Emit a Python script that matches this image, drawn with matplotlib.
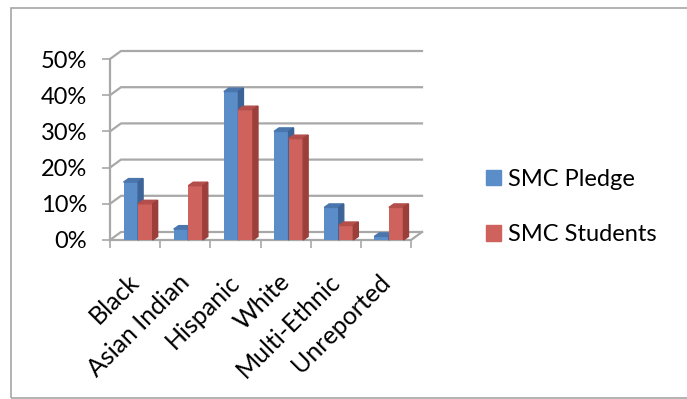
import matplotlib.pyplot as plt
from matplotlib.patches import Polygon, Rectangle, Patch

plt.rcParams['font.family'] = ['Lato', 'DejaVu Sans']

# data
categories = ['Black', 'Asian Indian', 'Hispanic', 'White', 'Multi-Ethnic', 'Unreported']
pledge = [0.16, 0.03, 0.41, 0.30, 0.09, 0.01]
students = [0.10, 0.15, 0.36, 0.28, 0.04, 0.09]
series_names = ['SMC Pledge', 'SMC Students']
yticks = [0, 0.1, 0.2, 0.3, 0.4, 0.5]
ytick_labels = ['0%', '10%', '20%', '30%', '40%', '50%']

# face colours: front, top, side
blue = ('#5b8dc9', '#4a76ad', '#3c6496')
red = ('#cf625c', '#b34e4a', '#9c3f3b')
grid_col = '#a8a8a8'

W, H = 687, 399
fig = plt.figure(figsize=(W / 100, H / 100), dpi=100)
ax = fig.add_axes([110 / W, 159 / H, 301 / W, 181 / H])
ax.set_xlim(0, len(categories))
ax.set_ylim(0, 0.5)

# pixel sizes in data units, used for the fake 3d depth
ux = len(categories) / 301
uy = 0.5 / 181
wall_dx, wall_dy = 11 * ux, 8 * uy
bar_dx, bar_dy = 5 * ux, 3.5 * uy
n = len(categories)

# back wall gridlines + left side diagonals
for t in yticks:
    ax.plot([0, wall_dx, n + wall_dx], [t, t + wall_dy, t + wall_dy],
            color=grid_col, lw=1.6, clip_on=False, zorder=1)
# floor
ax.plot([0, n, n + wall_dx], [0, 0, wall_dy], color=grid_col, lw=1.6,
        clip_on=False, zorder=1)

for s in ['top', 'right', 'bottom']:
    ax.spines[s].set_visible(False)
ax.spines['left'].set_color(grid_col)
ax.spines['left'].set_linewidth(1.6)

ax.set_yticks(yticks, ytick_labels)
ax.set_xticks(range(n + 1), [''] * (n + 1))
ax.tick_params(axis='y', length=5.5, width=1.2, color=grid_col, pad=11,
               labelsize=17)
ax.tick_params(axis='x', length=6, width=1.2, color=grid_col)


def bar3d(x0, vals, w, cols, label):
    ax.bar(x0, vals, width=w, align='edge', color=cols[0], zorder=3,
           label=label)
    for x, v in zip(x0, vals):
        top = Polygon([(x, v), (x + bar_dx, v + bar_dy),
                       (x + w + bar_dx, v + bar_dy), (x + w, v)],
                      closed=True, color=cols[1], zorder=3, clip_on=False)
        side = Polygon([(x + w, 0), (x + w + bar_dx, bar_dy),
                        (x + w + bar_dx, v + bar_dy), (x + w, v)],
                       closed=True, color=cols[2], zorder=3, clip_on=False)
        ax.add_patch(top)
        ax.add_patch(side)


bw = 0.29
bar3d([i + 0.27 for i in range(n)], pledge, bw, blue, series_names[0])
bar3d([i + 0.27 + bw for i in range(n)], students, bw, red, series_names[1])

for i, c in enumerate(categories):
    ax.text(i + 0.5 - 8 * ux, -30 * uy, c, rotation=45, ha='right', va='top',
            rotation_mode='anchor', fontsize=18, clip_on=False)

fig.legend(handles=[Patch(color=blue[0]), Patch(color=red[0])],
           labels=series_names, loc='center left',
           bbox_to_anchor=(486 / W, 1 - 207 / H), frameon=False,
           fontsize=17, handlelength=0.64, handleheight=0.64,
           handletextpad=0.28, labelspacing=1.45, borderpad=0,
           borderaxespad=0)

fig.patches.append(Rectangle((11 / W, 1.5 / H), 700 / W, (399 - 9.5) / H,
                             transform=fig.transFigure, fill=False,
                             edgecolor='#a6a6a6', lw=1.2))

fig.savefig('out.png', dpi=100)
